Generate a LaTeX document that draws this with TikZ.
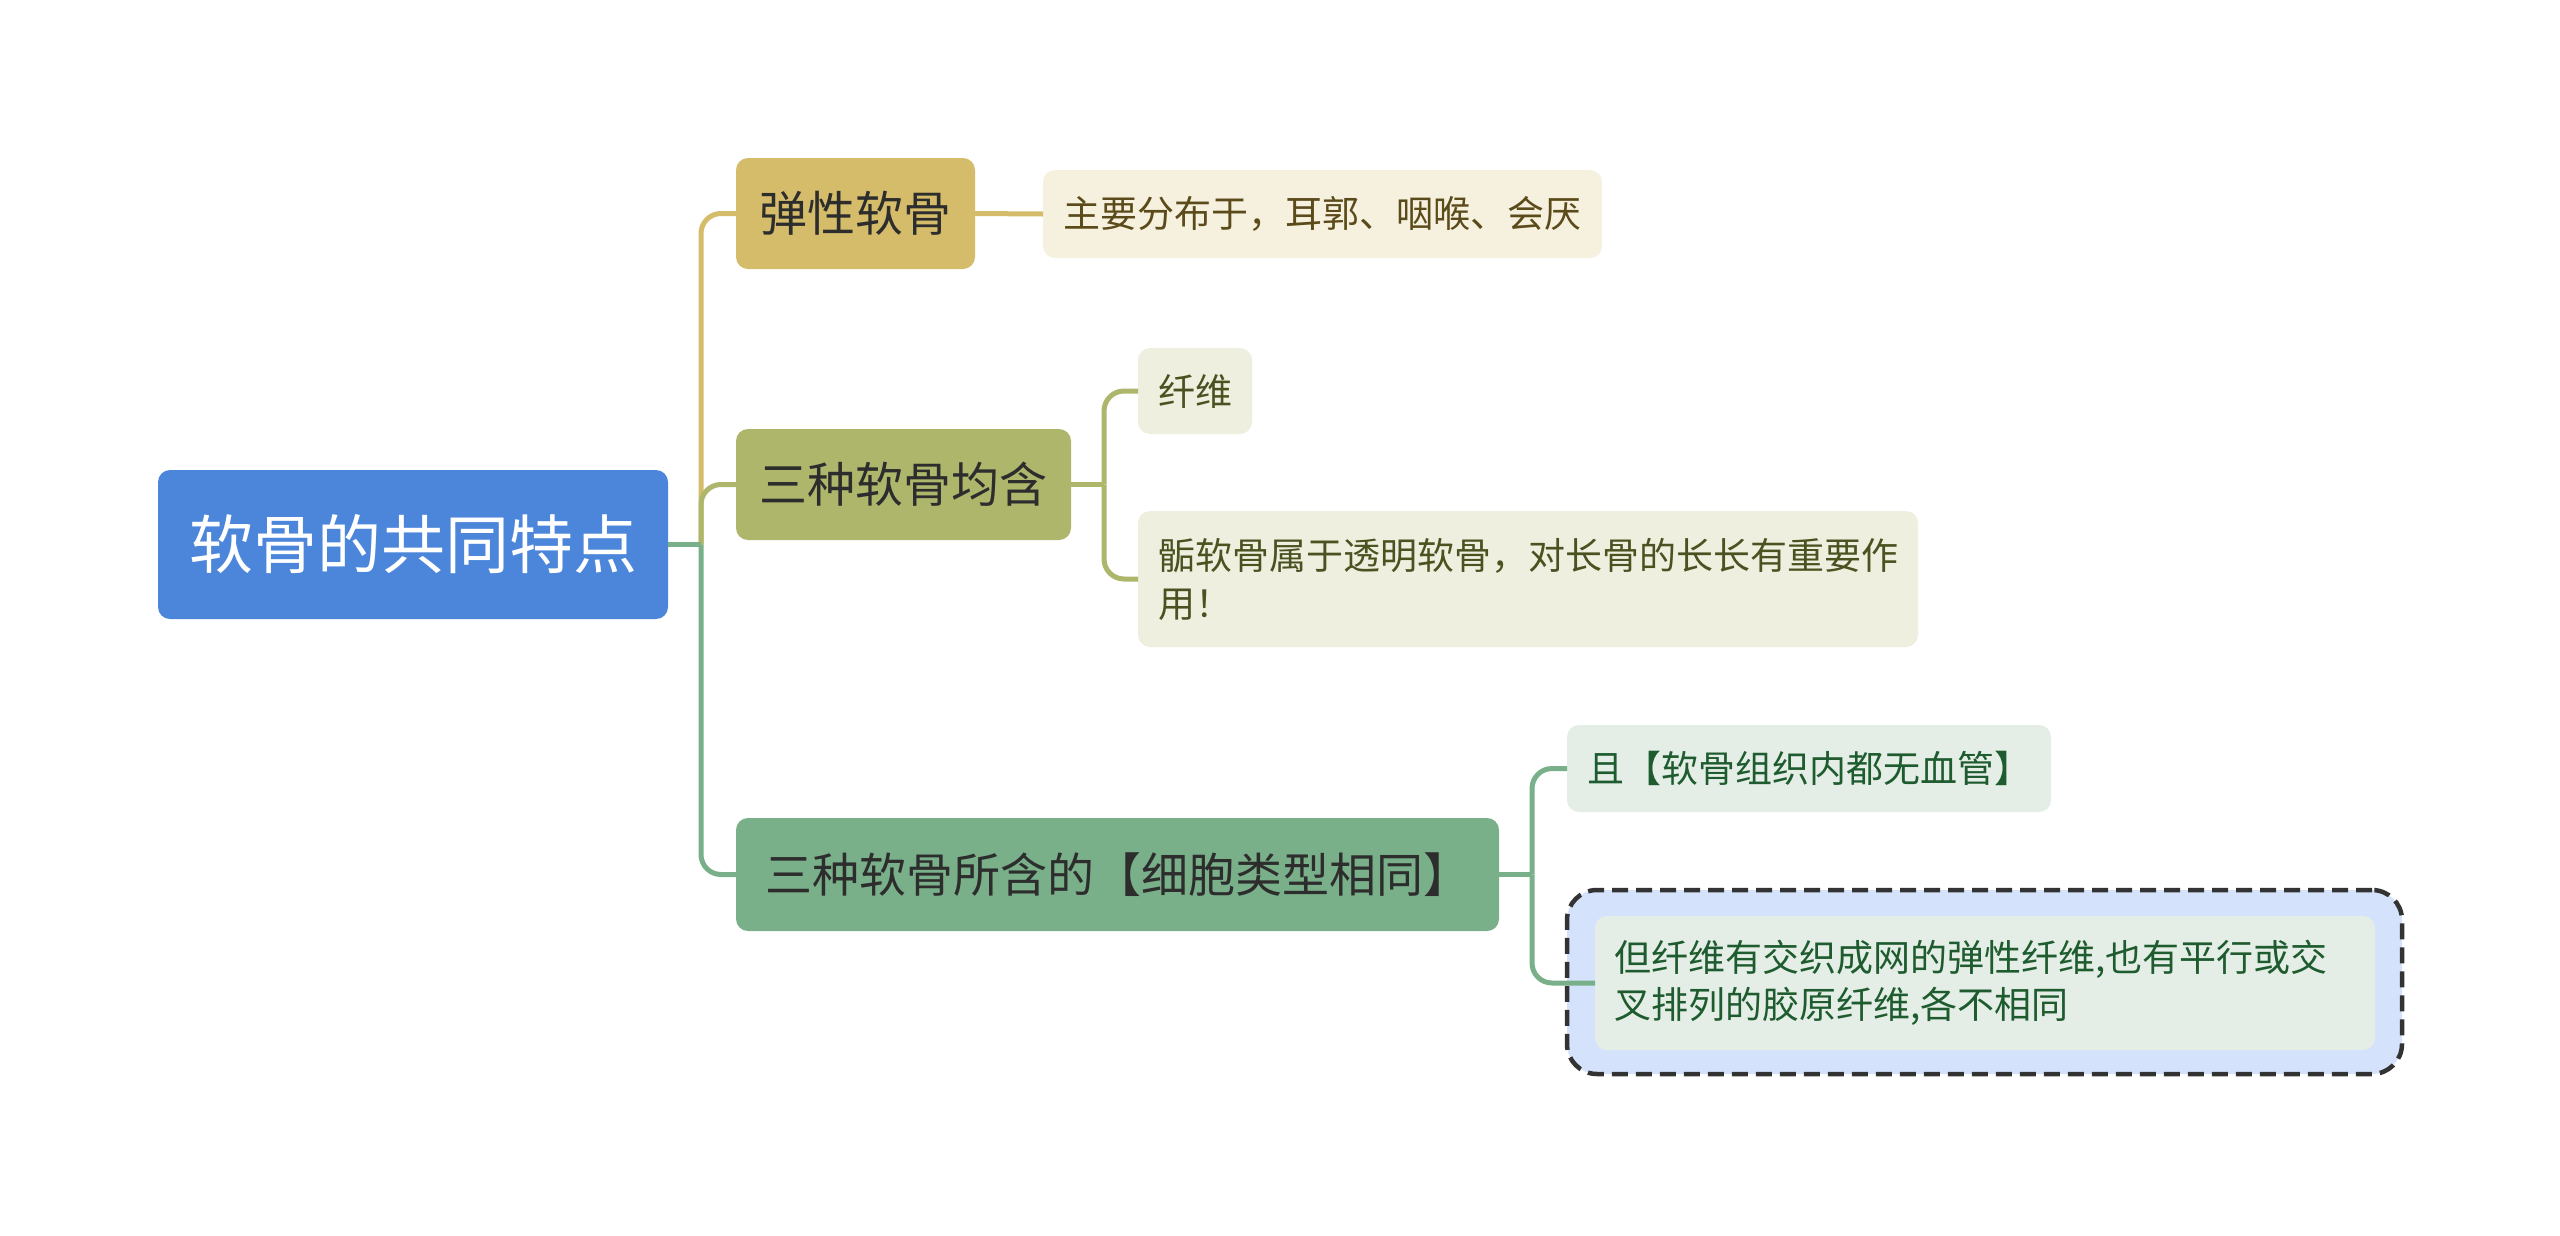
\documentclass[tikz,border=0pt]{standalone}
\usepackage{fontspec}
\setmainfont{Noto Sans CJK SC}
\definecolor{cRoot}{HTML}{4C86DA}
\definecolor{cY}{HTML}{D4BC6A}
\definecolor{cO}{HTML}{AEB66B}
\definecolor{cG}{HTML}{79B08A}
\definecolor{fY}{HTML}{F6F1DE}
\definecolor{fO}{HTML}{EFEFE0}
\definecolor{fG}{HTML}{E4EEE6}
\definecolor{fB}{HTML}{D4E3FB}
\definecolor{tDark}{HTML}{2D2D2D}
\definecolor{tY}{HTML}{5B4A1A}
\definecolor{tO}{HTML}{4A5220}
\definecolor{tG}{HTML}{1E5B2E}
\definecolor{dashc}{HTML}{333333}
\begin{document}
\begin{tikzpicture}[x=1pt,y=-1pt,
  box/.style={rounded corners=12pt, inner sep=0pt, outer sep=0pt, anchor=north west, align=center},
  rootbox/.style={box, fill=cRoot, text=white, font=\fontsize{64}{76}\selectfont},
  brY/.style={box, fill=cY, text=tDark, font=\fontsize{48}{58}\selectfont},
  brO/.style={box, fill=cO, text=tDark, font=\fontsize{48}{58}\selectfont},
  brG/.style={box, fill=cG, text=tDark, font=\fontsize{47}{58}\selectfont},
  lfY/.style={box, fill=fY, text=tY, font=\fontsize{37}{48}\selectfont, align=left},
  lfO/.style={box, fill=fO, text=tO, font=\fontsize{37}{48}\selectfont, align=left},
  lfG/.style={box, fill=fG, text=tG, font=\fontsize{37}{47}\selectfont, align=left},
  dashbox/.style={box, rounded corners=30pt, fill=fB, draw=dashc, line width=4.5pt, dash pattern=on 16pt off 8pt},
  conn/.style={line width=5pt},
  connY/.style={conn, draw=cY},
  connO/.style={conn, draw=cO},
  connG/.style={conn, draw=cG}
]
\useasboundingbox (0,0) rectangle (2560,1235);
\fill[white] (0,0) rectangle (2560,1235);

\node[rootbox, minimum width=510pt, minimum height=149pt] (root) at (158,470) {软骨的共同特点};

\node[brY, minimum width=239pt, minimum height=111pt] (b1) at (736,158) {弹性软骨};
\node[lfY, minimum width=559pt, minimum height=88pt] (l1) at (1043,170) {主要分布于，耳郭、咽喉、会厌};

\node[brO, minimum width=335pt, minimum height=111pt] (b2) at (736,429) {三种软骨均含};
\node[lfO, minimum width=114pt, minimum height=86pt] (l2) at (1138,348) {纤维};
\node[lfO, minimum width=780pt, minimum height=136pt, text width=740pt] (l3) at (1138,511) {骺软骨属于透明软骨，对长骨的长长有重要作\\用！};

\node[brG, minimum width=763pt, minimum height=113pt] (b3) at (736,818) {三种软骨所含的【细胞类型相同】};
\node[lfG, minimum width=484pt, minimum height=87pt] (l4) at (1567,725) {且【软骨组织内都无血管】};
\node[dashbox, minimum width=835pt, minimum height=184pt] (l5o) at (1567,890) {};
\node[lfG, minimum width=780pt, minimum height=134pt, text width=742pt] (l5) at (1595,916) {但纤维有交织成网的弹性纤维,也有平行或交\\叉排列的胶原纤维,各不相同};

\coordinate (tr) at (701,544.5);
\coordinate (t2) at (1104,484.5);
\coordinate (t3) at (1532,874.5);

\draw[connY, rounded corners=20pt] (tr) |- (b1.west);
\draw[connO, rounded corners=20pt] (tr) |- (b2.west);
\draw[connG, rounded corners=20pt] (tr) |- (b3.west);
\draw[connG] (root.east) -- (tr);

\draw[connY] (b1.east) -- (l1.west);

\draw[connO] (b2.east) -- (t2);
\draw[connO, rounded corners=20pt] (t2) |- (l2.west);
\draw[connO, rounded corners=20pt] (t2) |- (l3.west);

\draw[connG] (b3.east) -- (t3);
\draw[connG, rounded corners=20pt] (t3) |- (l4.west);
\draw[connG, rounded corners=20pt] (t3) |- (l5.west);
\end{tikzpicture}
\end{document}
